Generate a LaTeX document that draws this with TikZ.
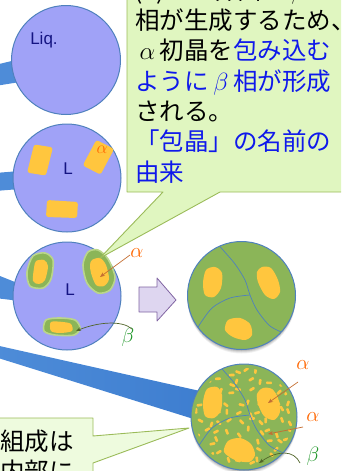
\documentclass[tikz,border=0pt]{standalone}
\usepackage{fontspec}
\setmainfont{Liberation Sans}
\newfontfamily\jfont{Noto Sans CJK JP}
\usetikzlibrary{arrows.meta,calc}

\definecolor{liq}{RGB}{160,162,247}
\definecolor{rim}{RGB}{79,129,189}
\definecolor{ylw}{RGB}{255,198,62}
\definecolor{grn}{RGB}{139,181,88}
\definecolor{grnlt}{RGB}{186,214,138}
\definecolor{navy}{RGB}{20,20,130}
\definecolor{orng}{RGB}{255,102,0}
\definecolor{ptrbrown}{RGB}{196,110,50}
\definecolor{ptrolive}{RGB}{80,100,40}
\definecolor{betagrn}{RGB}{30,150,40}
\definecolor{calfill}{RGB}{224,246,192}
\definecolor{calfilllt}{RGB}{238,251,222}
\definecolor{calrim}{RGB}{155,187,89}
\definecolor{txtblue}{RGB}{15,25,235}
\definecolor{band}{RGB}{78,140,216}
\definecolor{bandlt}{RGB}{125,172,234}
\definecolor{banddk}{RGB}{62,126,208}
\definecolor{lav}{RGB}{222,214,240}
\definecolor{lavrim}{RGB}{128,100,162}

\tikzset{
  disc/.style={fill=#1, draw=rim, line width=1pt},
  grainline/.style={draw=rim, line width=0.7pt},
  crystal/.style={fill=ylw},
  betarim/.style={fill=grn, draw=grnlt, line width=1.6pt},
  jtext/.style={font=\jfont\fontsize{24.5}{30}\selectfont, inner sep=0pt, anchor=base west},
  phase/.style={font=\fontsize{21}{21}\selectfont, inner sep=0pt},
  lbl/.style={font=\fontsize{17}{17}\selectfont, text=navy, inner sep=0pt},
  tipline/.style={line width=0.7pt, -{Stealth[length=5pt,width=4pt]}},
  callout/.style={draw=calrim, line width=0.9pt},
}

\newcommand{\fw}[1]{\makebox[24.5pt]{#1}}

\begin{document}
\begin{tikzpicture}[x=1pt,y=-1pt,line join=round]
\useasboundingbox (0,0) rectangle (341,471);
\clip (0,0) rectangle (341,471);

% centres of the five discs
\coordinate (c1) at (66,60);
\coordinate (c2) at (67,178);
\coordinate (c3) at (67,296);
\coordinate (c4) at (241.5,295.5);
\coordinate (c5) at (244,417);

% blue bands entering from the left
\fill[band] (-5,65) -- (20,59) -- (20,82) -- (-5,86) -- cycle;
\fill[band] (-5,173) -- (20,171) -- (20,189) -- (-5,191) -- cycle;
\fill[band] (-5,274) -- (20,284) -- (20,301) -- (-5,298) -- cycle;
\shade[left color=band, middle color=bandlt, right color=banddk]
  (-5,345) -- (200,391) -- (200,421) -- (-5,357) -- cycle;

% --- disc 1: liquid ---
\filldraw[disc=liq] (c1) circle[radius=54.5pt];
\node[lbl] (liqlbl) at (44,40) {Liq.};

% --- disc 2: primary alpha crystals in liquid ---
\filldraw[disc=liq] (c2) circle[radius=54pt];
\fill[crystal, rounded corners=2.5pt, rotate around={-12:(40,160)}]
  (31,146) -- (50,145) -- (49,174) -- (30,175) -- cycle;
\fill[crystal, rounded corners=2.5pt, rotate around={-30:(98,157)}]
  (88,143) -- (108,142) -- (109,171) -- (89,172) -- cycle;
\fill[crystal, rounded corners=2.5pt]
  (47,200) -- (78,202) -- (77,218) -- (46,217) -- cycle;
\node[phase, text=orng, font=\fontsize{18}{18}\selectfont] (a2) at (102,150) {$\alpha$};
\node[lbl] (l2) at (68,169) {L};

% --- disc 3: beta shells round the alpha crystals ---
\filldraw[disc=liq] (c3) circle[radius=54pt];
\filldraw[betarim] plot[smooth cycle] coordinates
  {(33,256) (45,253) (53,260) (51,279) (43,288) (30,286) (27,272)};
\fill[crystal] plot[smooth cycle] coordinates
  {(36,261) (44,260) (48,266) (45,280) (39,284) (33,281) (34,268)};
\filldraw[betarim] plot[smooth cycle] coordinates
  {(88,252) (98,250) (108,259) (115,277) (110,290) (98,293) (87,283) (83,265)};
\fill[crystal] plot[smooth cycle] coordinates
  {(92,260) (100,258) (106,265) (109,279) (104,286) (96,285) (91,273) (90,265)};
\filldraw[betarim] plot[smooth cycle] coordinates
  {(46,320) (60,318) (75,320) (80,328) (74,335) (55,335) (44,331)};
\fill[crystal] plot[smooth cycle] coordinates
  {(51,322) (63,322) (71,324) (72,331) (60,333) (51,331)};
\node[lbl] (l3) at (70,290) {L};
\node[phase, text=orng] (a3) at (137,253) {$\alpha$};
\node[phase, text=betagrn] (b3) at (128,337) {$\beta$};
\coordinate (a3from) at (130,255);
\coordinate (a3to) at (100,277);
\coordinate (b3from) at (132,329);
\coordinate (b3to) at (76,331);
\draw[tipline, ptrbrown] (a3from) -- (a3to);
\draw[tipline, ptrolive] (b3from) .. controls (122,320) and (98,322) .. (b3to);

% --- block arrow ---
\filldraw[fill=lav, draw=lavrim, line width=0.8pt]
  (139,287) -- (157,287) -- (157,278) -- (176,300) -- (157,321) -- (157,312) -- (139,312) -- cycle;

% --- disc 4: beta grains with alpha remnants ---
\foreach \s/\o in {4/0.06,3/0.08,2/0.10,1/0.12}
  \fill[black, opacity=\o] ($(c4)+(0,\s)$) circle[radius=54pt];
\fill[grn] (c4) circle[radius=54pt];
\begin{scope}
  \clip (c4) circle[radius=54pt];
  \fill[crystal] plot[smooth cycle] coordinates
    {(206,270) (215,267) (222,273) (221,288) (214,297) (205,295) (203,283)};
  \fill[crystal] plot[smooth cycle] coordinates
    {(262,267) (271,268) (278,280) (280,292) (274,299) (265,295) (258,282) (257,272)};
  \fill[crystal] plot[smooth cycle] coordinates
    {(228,320) (240,318) (250,324) (252,335) (245,340) (233,337) (225,330)};
  \draw[grainline] plot[smooth] coordinates
    {(217,243) (223,250) (235,264) (245,280) (250,295) (257,310) (270,326) (286,334)};
  \draw[grainline] plot[smooth] coordinates
    {(250,295) (230,298) (212,308) (198,327) (195,333)};
\end{scope}
\draw[rim, line width=1pt] (c4) circle[radius=54pt];

% --- disc 5: beta grains with fine alpha precipitates ---
\foreach \s/\o in {4/0.06,3/0.08,2/0.10,1/0.12}
  \fill[black, opacity=\o] ($(c5)+(0,\s)$) circle[radius=53pt];
\fill[grn] (c5) circle[radius=53pt];
\begin{scope}
  \clip (c5) circle[radius=49pt];
  \pgfmathsetseed{9131}
  % fine precipitates on a jittered grid
  \foreach \gx in {-45,-35,...,45}{
    \foreach \gy in {-45,-35,...,45}{
      \pgfmathsetmacro{\dx}{\gx+3.5*rand}
      \pgfmathsetmacro{\dy}{\gy+3.5*rand}
      \pgfmathsetmacro{\ang}{90*rand}
      \fill[crystal, rounded corners=0.8pt, rotate around={\ang:(244+\dx,417+\dy)}]
        (244+\dx-1.3,417+\dy-2.9) rectangle (244+\dx+1.3,417+\dy+2.9);
    }
  }
\end{scope}
\begin{scope}
  \clip (c5) circle[radius=53pt];
  \fill[crystal] plot[smooth cycle] coordinates
    {(207,389) (217,387) (222,395) (221,410) (214,418) (205,416) (203,402)};
  \fill[crystal] plot[smooth cycle] coordinates
    {(263,388) (272,389) (278,398) (280,412) (274,420) (264,416) (258,404) (257,394)};
  \fill[crystal] plot[smooth cycle] coordinates
    {(228,441) (240,438) (251,444) (255,455) (249,462) (235,460) (224,452)};
  \draw[grainline] plot[smooth] coordinates
    {(217,363) (223,370) (235,384) (245,400) (250,415) (257,430) (270,446) (286,454)};
  \draw[grainline] plot[smooth] coordinates
    {(250,415) (230,418) (212,428) (198,447) (195,453)};
\end{scope}
\draw[rim, line width=1pt] (c5) circle[radius=53pt];
\node[phase, text=orng] (a5a) at (303,365) {$\alpha$};
\node[phase, text=orng] (a5b) at (313,417) {$\alpha$};
\node[phase, text=betagrn] (b5) at (313,456) {$\beta$};
\coordinate (a5afrom) at (298,382);
\coordinate (a5ato) at (268,403);
\coordinate (a5bfrom) at (303,427);
\coordinate (a5bto) at (268,434);
\coordinate (b5from) at (300,463);
\coordinate (b5to) at (259,463);
\draw[tipline, ptrbrown] (a5afrom) -- (a5ato);
\draw[tipline, ptrbrown] (a5bfrom) -- (a5bto);
\draw[tipline, ptrolive] (b5from) .. controls (294,450) and (278,450) .. (b5to);

% --- upper callout ---
\shade[callout, top color=calfill, bottom color=calfill]
  (127,-20) -- (127,192) -- (163,192) -- (100,258) -- (220,192)
  -- (360,192) -- (360,-20) -- cycle;
\node[jtext] (t0) at (134,-1) {(2)この界面で\fw{$\beta$}};
\node[jtext] (t1) at (135,29) {相が生成するため、};
\node[jtext] (t2) at (135,59.5) {\fw{$\alpha$}初晶を\textcolor{txtblue}{包み込む}};
\node[jtext, text=txtblue] (t3) at (135,90) {ように\fw{$\beta$}相が形成};
\node[jtext] (t4) at (135,120) {される。};
\node[jtext, text=txtblue] (t5) at (135,150.5) {「包晶」の名前の};
\node[jtext, text=txtblue] (t6) at (135,181) {由来};

% --- lower callout ---
\shade[callout, top color=calfilllt, bottom color=calfilllt]
  (-20,418) -- (93,418) -- (93,436) -- (189,428) -- (93,463)
  -- (93,490) -- (-20,490) -- cycle;
\node[jtext] (u1) at (0,450) {組成は};
\node[jtext] (u2) at (0,480) {内部に};
\end{tikzpicture}
\end{document}
